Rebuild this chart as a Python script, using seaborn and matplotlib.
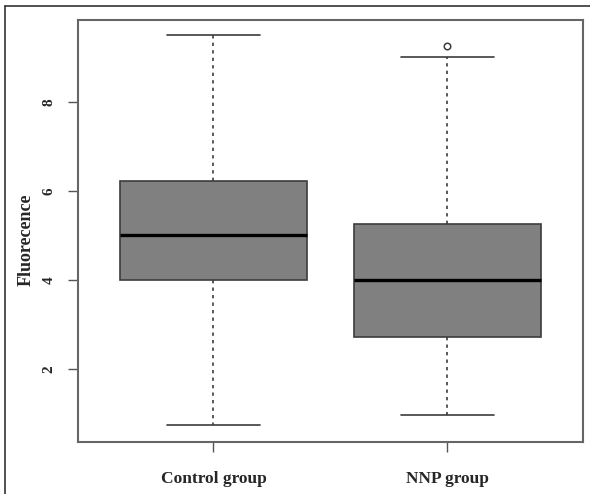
import numpy as np
import pandas as pd
import matplotlib
matplotlib.use("Agg")
import matplotlib.pyplot as plt
import seaborn as sns
from matplotlib.lines import Line2D

# Valeurs (min, Q1, médiane, Q3, max des moustaches)
groupes = ["Control group", "NNP group"]
control = [0.74, 4.0, 5.0, 6.22, 9.5]
nnp = [0.98, 2.72, 4.0, 5.25, 9.0]
outliers_nnp = [9.24]
yticks = [2, 4, 6, 8]

sns.set_style("white")
plt.rcParams['font.family'] = ['Liberation Serif', 'DejaVu Serif']

df = pd.DataFrame({
    "groupe": [groupes[0]] * len(control) + [groupes[1]] * len(nnp),
    "valeur": control + nnp,
})
df_out = pd.DataFrame({"groupe": [groupes[1]] * len(outliers_nnp),
                       "valeur": outliers_nnp})

fig = plt.figure(figsize=(5.9, 4.94), dpi=100)
ax = fig.add_axes([0.132, 0.105, 0.856, 0.855])

sns.boxplot(data=df, x="groupe", y="valeur", order=groupes, width=0.8,
            color="#808080", linecolor="#3c3c3c", linewidth=1.2,
            showfliers=False, saturation=1,
            boxprops={"facecolor": "#808080"},
            whiskerprops={"linestyle": (0, (2, 2.5)), "color": "#3c3c3c"},
            capprops={"color": "#3c3c3c"},
            medianprops={"color": "black", "linewidth": 2.4},
            ax=ax)
sns.scatterplot(data=df_out, x="groupe", y="valeur", marker="o", s=22,
                facecolor="white", edgecolor="#3c3c3c", linewidth=1.1,
                ax=ax, zorder=5)

ax.set_xlim(-0.58, 1.58)
ax.set_ylim(0.36, 9.84)
ax.set_yticks(yticks)
ax.set_yticklabels([str(t) for t in yticks], rotation=90, va="center",
                   fontweight="bold", fontsize=11)
ax.set_xticks([0, 1])
ax.set_xticklabels(groupes, fontweight="bold", fontsize=12.5)
ax.tick_params(axis="y", length=7, width=1, color="#555555", pad=9, left=True)
ax.tick_params(axis="x", length=7, width=1, color="#555555", pad=14, bottom=True)
ax.set_xlabel("")
ax.set_ylabel("Fluorecence", fontweight="bold", fontsize=13, labelpad=4)
ax.yaxis.set_label_coords(-0.085, 0.48)

for s in ax.spines.values():
    s.set_visible(True)
    s.set_color("#666666")
    s.set_linewidth(1.5)

# cadre extérieur (gauche et haut)
fig.add_artist(Line2D([5 / 590, 5 / 590], [0, 1 - 6 / 494], color="#333333", lw=1.2))
fig.add_artist(Line2D([5 / 590, 1], [1 - 6 / 494, 1 - 6 / 494], color="#333333", lw=1.2))

plt.savefig("out.png", dpi=100)
plt.close()
